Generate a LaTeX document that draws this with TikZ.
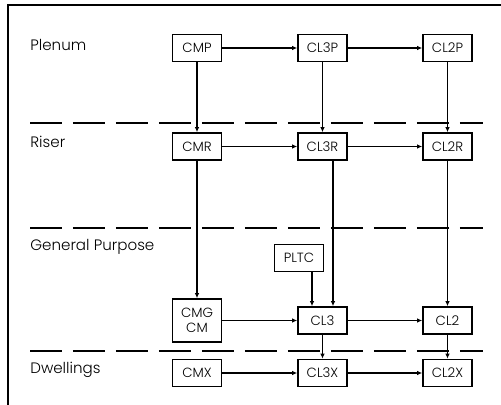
\documentclass[tikz,border=0pt]{standalone}
\usepackage{fontspec}
\setmainfont{Poppins Light}
\usetikzlibrary{arrows.meta, positioning, calc}

\tikzset{
  cable/.style={draw, line width=0.8pt, minimum width=0.98cm, minimum height=0.54cm,
    inner sep=1pt, font=\fontsize{7.6}{8.8}\selectfont, align=center},
  zone/.style={anchor=west, inner sep=0pt, font=\fontsize{8.6}{10}\selectfont},
  floor/.style={line width=1.7pt, dash pattern=on 0.64cm off 0.22cm},
  arr/.style={->, line width=0.6pt}
}

\begin{document}
\begin{tikzpicture}[x=0.02cm, y=-0.02cm, >={Latex[length=3pt,width=2.6pt]}]
  \useasboundingbox (0,0) rectangle (501,405);
  % Frame
  \draw[line width=0.7pt] (8,405) -- (8,5) -- (501,5);

  % Zones
  \node[zone] (plenum) at (30,45) {Plenum};
  \node[zone] (riser) at (30,142) {Riser};
  \node[zone] (general) at (30,247) {General Purpose};
  \node[zone] (dwell) at (30,370) {Dwellings};

  % Floor separators
  \coordinate (s1a) at (30,123); \coordinate (s1b) at (483,123);
  \coordinate (s2a) at (30,228); \coordinate (s2b) at (483,228);
  \coordinate (s3a) at (30,351); \coordinate (s3b) at (483,351);
  \draw[floor] (s1a) -- (s1b);
  \draw[floor] (s2a) -- (s2b);
  \draw[floor] (s3a) -- (s3b);

  % Cables
  \node[cable] (cmp) at (197,48) {CMP};
  \node[cable] (cl3p) at (322.5,48) {CL3P};
  \node[cable] (cl2p) at (447.5,48) {CL2P};
  \node[cable] (cmr) at (197,146.5) {CMR};
  \node[cable] (cl3r) at (322.5,146.5) {CL3R};
  \node[cable] (cl2r) at (447.5,146.5) {CL2R};
  \node[cable] (pltc) at (299,258) {PLTC};
  \node[cable, minimum height=0.86cm] (cmg) at (197,320.5) {CMG\\CM};
  \node[cable] (cl3) at (322.5,320.5) {CL3};
  \node[cable] (cl2) at (447.5,320.5) {CL2};
  \node[cable] (cmx) at (197,373) {CMX};
  \node[cable] (cl3x) at (322.5,373) {CL3X};
  \node[cable] (cl2x) at (447.5,373) {CL2X};

  % Substitutions
  \draw[arr] (cmp) -- (cl3p);
  \draw[arr] (cl3p) -- (cl2p);
  \draw[arr] (cmr) -- (cl3r);
  \draw[arr] (cl3r) -- (cl2r);
  \draw[arr] (cmg) -- (cl3);
  \draw[arr] (cl3) -- (cl2);
  \draw[arr] (cmx) -- (cl3x);
  \draw[arr] (cl3x) -- (cl2x);

  \draw[arr] (cmp) -- (cmr);
  \draw[arr] (cl3p) -- (cl3r);
  \draw[arr] (cl2p) -- (cl2r);
  \draw[arr] (cmr) -- (cmg);
  \draw[arr] ([xshift=0.21cm]cl3r.south) -- ([xshift=0.21cm]cl3.north);
  \draw[arr] ([xshift=-0.21cm]cl3.north |- pltc.south) -- ([xshift=-0.21cm]cl3.north);
  \draw[arr] (cl2r) -- (cl2);
  \draw[arr] (cl3) -- (cl3x);
  \draw[arr] (cl2) -- (cl2x);
\end{tikzpicture}
\end{document}
